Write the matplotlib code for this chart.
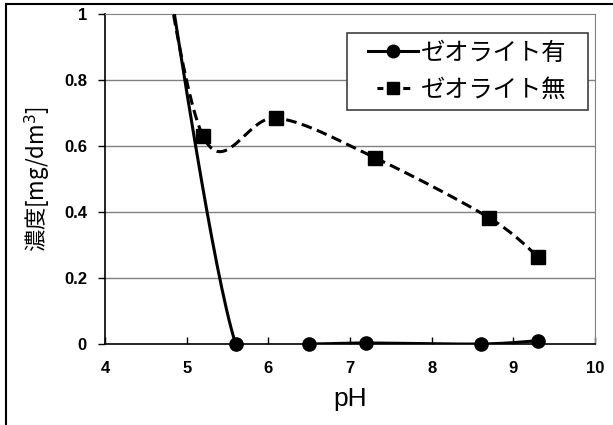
import numpy as np
import matplotlib
matplotlib.use('Agg')
import matplotlib.pyplot as plt
from matplotlib.lines import Line2D
from matplotlib.patches import Rectangle

plt.rcParams['font.family'] = ['Liberation Sans', 'Noto Sans CJK JP', 'DejaVu Sans']

# データ（pH と 濃度）
ph_yes = [4.5, 5.6, 6.5, 7.2, 8.6, 9.3]
conc_yes = [1.55, 0.0, 0.0, 0.003, 0.0, 0.01]
ph_no = [4.5, 5.2, 6.1, 7.3, 8.7, 9.3]
conc_no = [1.5, 0.63, 0.685, 0.565, 0.383, 0.265]
labels = ['ゼオライト有', 'ゼオライト無']
xticks = [4, 5, 6, 7, 8, 9, 10]
yticks = [0, 0.2, 0.4, 0.6, 0.8, 1.0]
yticklabels = ['0', '0.2', '0.4', '0.6', '0.8', '1']

SX, SY = 81.7, 329.0  # 画面上の1単位あたりのピクセル（Excel風スムージング用）


def smooth(xs, ys, n=40):
    # Excel 風の平滑線（Catmull-Rom -> Bezier）
    p = np.column_stack([np.array(xs) * SX, np.array(ys) * SY])
    out = []
    for i in range(len(p) - 1):
        p0 = p[i - 1] if i > 0 else p[i]
        p1, p2 = p[i], p[i + 1]
        p3 = p[i + 2] if i + 2 < len(p) else p[i + 1]
        c1 = p1 + (p2 - p0) / 6
        c2 = p2 - (p3 - p1) / 6
        t = np.linspace(0, 1, n)[:, None]
        seg = (1 - t) ** 3 * p1 + 3 * (1 - t) ** 2 * t * c1 + 3 * (1 - t) * t ** 2 * c2 + t ** 3 * p2
        out.append(seg)
    out = np.vstack(out)
    return out[:, 0] / SX, out[:, 1] / SY


fig = plt.figure(figsize=(6.13, 4.25), dpi=100)
ax = fig.add_axes([105 / 613, 81 / 425, 490 / 613, 330 / 425])

for yv in yticks[1:-1]:
    ax.axhline(yv, color='#808080', lw=1, zorder=1)

sx, sy = smooth(ph_yes, conc_yes)
ax.plot(sx, sy, color='black', lw=2.2, zorder=3)
ax.plot(ph_yes, conc_yes, 'o', color='black', ms=9.5, zorder=4, clip_on=False)

sx, sy = smooth(ph_no, conc_no)
ax.plot(sx, sy, color='black', lw=2.2, dashes=(3.5, 1.8), zorder=3)
ax.plot(ph_no, conc_no, 's', color='black', ms=9.5, zorder=4)

ax.set_xlim(4, 10)
ax.set_ylim(0, 1)
ax.set_xticks(xticks)
ax.set_xticklabels([str(v) for v in xticks], fontsize=12, fontweight='bold')
ax.set_yticks(yticks)
ax.set_yticklabels(yticklabels, fontsize=12, fontweight='bold')
ax.tick_params(axis='x', direction='in', length=5, width=1, pad=12)
ax.tick_params(axis='y', direction='out', length=5, width=1, pad=8)
for s in ['top', 'right']:
    ax.spines[s].set_color('#808080')
for s in ['left', 'bottom']:
    ax.spines[s].set_color('black')
    ax.spines[s].set_linewidth(1.2)

ax.set_xlabel('pH', fontsize=19, labelpad=8)
ax.set_ylabel('濃度[mg/dm$^3$]', fontsize=16, labelpad=8,
              family=['Noto Sans CJK JP', 'DejaVu Sans'])

# 凡例の枠
ax.add_patch(Rectangle((0.494, 0.709), 0.492, 0.233, transform=ax.transAxes,
                       facecolor='white', edgecolor='#404040', lw=1.2, zorder=5))
handles = [Line2D([], [], color='black', lw=2.2, marker='o', ms=9),
           Line2D([], [], color='black', lw=2.2, marker='s', ms=9,
                  linestyle=(13.4, (1.96, 6.5, 2.3, 5.55)))]
leg = ax.legend(handles, labels, loc='center', bbox_to_anchor=(0.74, 0.826),
                prop={'family': 'Noto Sans CJK JP', 'size': 17.5}, frameon=False,
                handlelength=2.05, handletextpad=0.12,
                labelspacing=0.45, borderpad=0.0, borderaxespad=0)
leg.set_zorder(6)

# 外枠（上と左）
fig.add_artist(Line2D([6 / 613, 1], [1 - 4 / 425, 1 - 4 / 425], color='black', lw=1.5))
fig.add_artist(Line2D([6 / 613, 6 / 613], [0, 1 - 4 / 425], color='black', lw=1.5))

fig.savefig('out.png', dpi=100)
